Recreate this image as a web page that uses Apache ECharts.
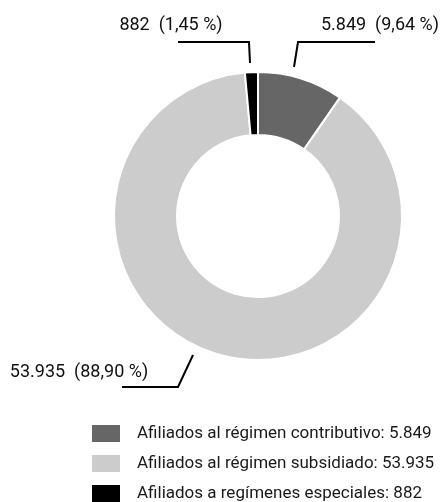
<!DOCTYPE html>
<html>
<head>
<meta charset="utf-8">
<script src="https://cdn.jsdelivr.net/npm/echarts@6/dist/echarts.min.js"></script>
<style>
  html, body { margin: 0; padding: 0; background: #fff; }
  #chart { width: 447px; height: 502px; }
</style>
</head>
<body>
<div id="chart"></div>
<script>
// datos
const categorias = [
  'Afiliados al régimen contributivo',
  'Afiliados al régimen subsidiado',
  'Afiliados a regímenes especiales'
];
const valores = [5849, 53935, 882];
const colores = ['#666666', '#cccccc', '#000000'];

const fmtMiles = v => String(v).replace(/\B(?=(\d{3})+(?!\d))/g, '.');
const total = valores.reduce((a, b) => a + b, 0);
const fmtPct = v => (v / total * 100).toFixed(2).replace('.', ',');

// posiciones de etiquetas (texto y línea guía), en px
const etiquetas = [
  { x: 380, y: 25, line: [[294, 67], [298, 42], [375, 42]] },
  { x: 79, y: 372, line: [[193, 355], [178, 387], [122, 387]] },
  { x: 171, y: 25, line: [[250, 63], [249, 42], [178, 42]] }
];

const chart = echarts.init(document.getElementById('chart'));
chart.setOption({
  animation: false,
  textStyle: { fontFamily: 'Roboto' },
  color: colores,
  legend: {
    orient: 'vertical',
    left: 87,
    top: 420,
    height: 90,
    itemWidth: 28,
    itemHeight: 17,
    itemGap: 13,
    icon: 'rect',
    itemStyle: { borderWidth: 0 },
    textStyle: { fontSize: 17, lineHeight: 17, color: '#1a1a1a', padding: [0, 0, 0, 12] },
    formatter: name => name + ': ' + fmtMiles(valores[categorias.indexOf(name)])
  },
  series: [{
    type: 'pie',
    center: [258, 216],
    radius: [81, 144],
    startAngle: 90,
    clockwise: true,
    itemStyle: { borderColor: '#fff', borderWidth: 2 },
    label: {
      show: true,
      fontSize: 18,
      color: '#111',
      overflow: 'none',
      formatter: p => fmtMiles(p.value) + '  (' + fmtPct(p.value) + ' %)'
    },
    labelLine: {
      show: true,
      lineStyle: { color: '#000', width: 2 }
    },
    labelLayout: p => {
      const e = etiquetas[p.dataIndex];
      return {
        x: e.x, y: e.y, align: 'center', verticalAlign: 'middle',
        labelLinePoints: e.line
      };
    },
    emphasis: { disabled: true },
    data: categorias.map((c, i) => ({ name: c, value: valores[i] }))
  }]
});
</script>
</body>
</html>
